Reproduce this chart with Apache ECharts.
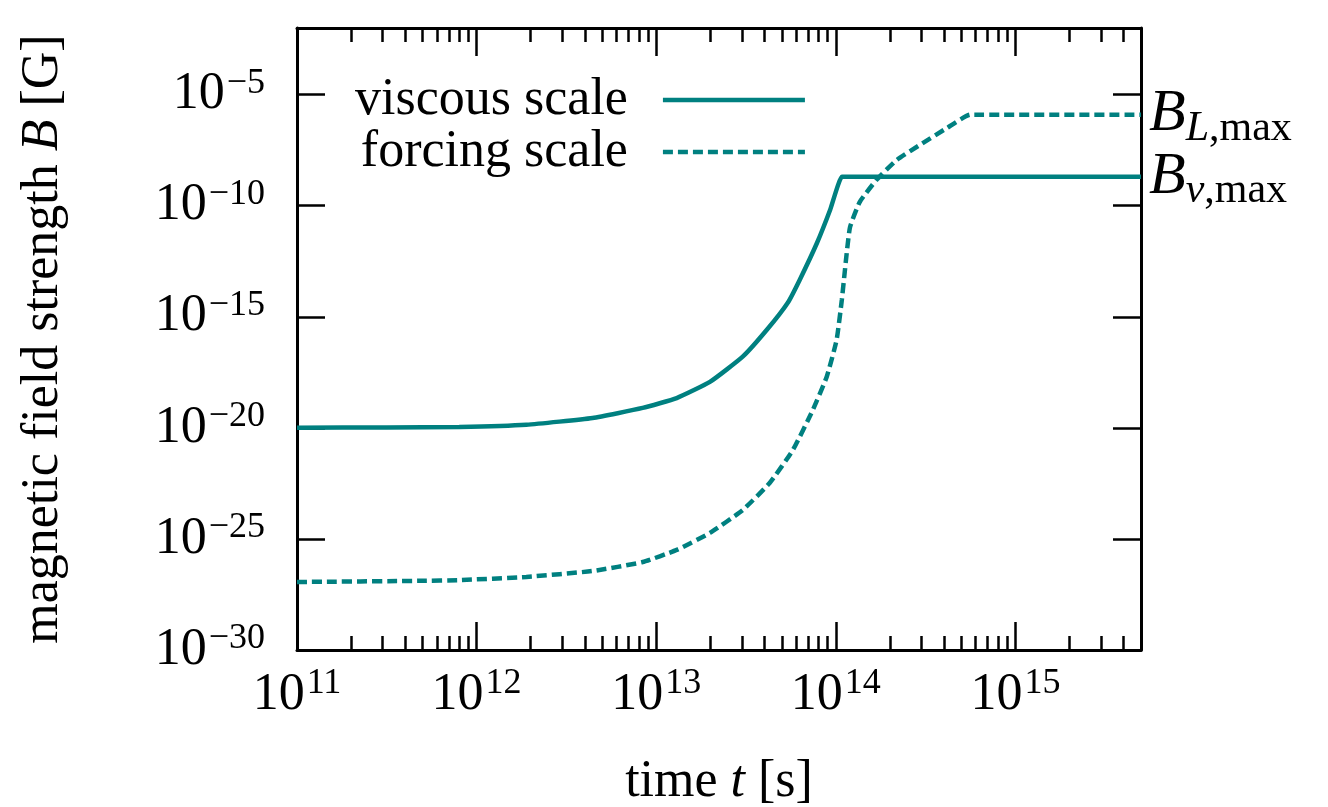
<!DOCTYPE html>
<html><head><meta charset="utf-8">
<script src="https://cdn.jsdelivr.net/npm/echarts@6/dist/echarts.min.js"></script>
<style>html,body{margin:0;padding:0;background:#fff}#c{width:1328px;height:807px}</style>
</head><body><div id="c"></div>
<script>
// time t [s]
const viscousT = [1e11, 3.16e11, 8.0e11, 1.89e12, 4.42e12, 8.4e12, 1.30e13, 1.99e13, 3.03e13, 4.13e13, 5.4e13, 6.3e13, 7.85e13, 9.3e13, 1.08e14, 1.12e14, 5e15];
// magnetic field strength B [G]
const viscousB = [1.0e-20, 1.05e-20, 1.1e-20, 1.38e-20, 2.8e-20, 7.9e-20, 2.2e-19, 1.17e-18, 1.6e-17, 2.6e-16, 4.3e-15, 4.7e-14, 2.1e-12, 6.6e-11, 2.0e-9, 2.0e-9, 2.0e-9];
const forcingT = [1e11, 4.9e11, 8.0e11, 1.89e12, 4.42e12, 8.4e12, 1.30e13, 1.99e13, 3.03e13, 4.28e13, 5.77e13, 7.45e13, 8.9e13, 1.01e14, 1.08e14, 1.15e14, 1.20e14, 1.36e14, 1.69e14, 2.19e14, 2.95e14, 4.17e14, 5.6e14, 5.9e14, 5e15];
const forcingB = [1.15e-27, 1.3e-27, 1.4e-27, 1.95e-27, 3.6e-27, 9.1e-27, 3.2e-26, 1.86e-25, 2.0e-24, 3.3e-23, 1.02e-21, 6.5e-20, 2.0e-18, 9.1e-17, 5.9e-15, 7.6e-13, 1.1e-11, 1.5e-10, 1.5e-9, 1.17e-8, 5.6e-8, 3.2e-7, 1.26e-6, 1.26e-6, 1.26e-6];
const seriesNames = ['viscous scale', 'forcing scale'];
const endLabelSubs = ['ν', 'L'];
const xRange = [1e11, 5e15];
const yRange = [1e-30, 1e-2];
const xTickExponents = [11, 12, 13, 14, 15];
const yTickExponents = [-30, -25, -20, -15, -10, -5];
const xMinorMultipliers = [2, 3, 4, 5, 6, 7, 8, 9];
const xTitle = ['time ', 't', ' [s]'];
const yTitle = ['magnetic field strength ', 'B', ' [G]'];

const FONT = 'Liberation Serif';
const TEAL = '#008080';
const BIG = 52, SMALL = 36, TITLE = 52;
const lg = Math.log10;

const xMin = lg(xRange[0]), xMax = lg(xRange[1]);
const yMin = lg(yRange[0]), yMax = lg(yRange[1]);
const xMinor = [];
xTickExponents.forEach(e => xMinorMultipliers.forEach(m => { const v = e + lg(m); if (v < xMax) xMinor.push(v); }));

function powLabel(v, allowed) {
  const e = Math.round(v);
  if (Math.abs(v - e) > 1e-6 || allowed.indexOf(e) < 0) return '';
  return '{b|10}{e|' + (e < 0 ? '−' : '') + Math.abs(e) + '}';
}
const labelRich = {
  b: {fontFamily: FONT, fontSize: BIG, color: '#000'},
  e: {fontFamily: FONT, fontSize: SMALL, color: '#000', padding: [0, 0, 22, 2]}
};
const tickStyle = {color: '#000', width: 2.5};
const titleRich = {
  n: {fontFamily: FONT, fontSize: TITLE, color: '#000'},
  i: {fontFamily: FONT, fontStyle: 'italic', fontSize: TITLE, color: '#000'}
};

function xMajor(pos, showLabel) {
  return {
    type: 'value', min: xMin, max: xMax, interval: 1, position: pos, gridIndex: 0,
    axisLine: {show: true, onZero: false, lineStyle: {color: '#000', width: 3}},
    axisTick: {show: true, inside: true, length: 28, lineStyle: tickStyle},
    splitLine: {show: false},
    axisLabel: {show: showLabel, margin: 16, formatter: v => powLabel(v, xTickExponents), rich: labelRich},
    name: showLabel ? '{n|' + xTitle[0] + '}{i|' + xTitle[1] + '}{n|' + xTitle[2] + '}' : '',
    nameLocation: 'middle', nameGap: 106,
    nameTextStyle: {rich: titleRich}
  };
}
function xMinorAx(pos) {
  return {
    type: 'value', min: xMin, max: xMax, position: pos, gridIndex: 0,
    axisLine: {show: false, onZero: false},
    axisTick: {show: true, inside: true, length: 14, lineStyle: tickStyle, customValues: xMinor},
    splitLine: {show: false},
    axisLabel: {show: false}
  };
}
function yAx(pos, showLabel) {
  return {
    type: 'value', min: yMin, max: yMax, interval: 5, position: pos, gridIndex: 0,
    axisLine: {show: true, onZero: false, lineStyle: {color: '#000', width: 3}},
    axisTick: {show: true, inside: true, length: 28, lineStyle: tickStyle},
    splitLine: {show: false},
    axisLabel: {show: showLabel, margin: 32, formatter: v => powLabel(v, yTickExponents), rich: labelRich},
    name: showLabel ? '{n|' + yTitle[0] + '}{i|' + yTitle[1] + '}{n|' + yTitle[2] + '}' : '',
    nameLocation: 'middle', nameGap: 228, nameRotate: 90,
    nameTextStyle: {rich: titleRich}
  };
}
function endLabel(sub) {
  return {
    show: true, distance: 8,
    formatter: '{bi|B}{si|' + sub + '}{s|,max}',
    rich: {
      bi: {fontFamily: FONT, fontStyle: 'italic', fontSize: 60, color: '#000'},
      si: {fontFamily: FONT, fontStyle: 'italic', fontSize: 42, color: '#000', padding: [28, 0, 0, 0]},
      s: {fontFamily: FONT, fontSize: 42, color: '#000', padding: [28, 0, 0, 0]}
    }
  };
}

const chart = echarts.init(document.getElementById('c'), null, {renderer: 'canvas'});
chart.setOption({
  backgroundColor: '#fff',
  animation: false,
  grid: {left: 297, right: 187, top: 28, bottom: 157, containLabel: false, outerBoundsMode: 'none'},
  xAxis: [xMajor('bottom', true), xMinorAx('bottom'), xMajor('top', false), xMinorAx('top')],
  yAxis: [yAx('left', true), yAx('right', false)],
  legend: {
    left: 350, top: 69, orient: 'vertical', align: 'right',
    itemWidth: 142, itemHeight: 14, itemGap: 0,
    itemStyle: {color: 'rgba(0,0,0,0)', borderWidth: 0, opacity: 0},
    lineStyle: {width: 4.5},
    textStyle: {fontFamily: FONT, fontSize: BIG, color: '#000', padding: [0, 30, 0, 0]},
    data: seriesNames
  },
  series: [
    {
      name: seriesNames[0], type: 'line', xAxisIndex: 0, yAxisIndex: 0,
      data: viscousT.map((t, i) => [lg(t), lg(viscousB[i])]),
      symbol: 'none', showSymbol: false, smooth: 0.15,
      lineStyle: {color: TEAL, width: 4.5}, itemStyle: {color: TEAL},
      endLabel: endLabel(endLabelSubs[0])
    },
    {
      name: seriesNames[1], type: 'line', xAxisIndex: 0, yAxisIndex: 0,
      data: forcingT.map((t, i) => [lg(t), lg(forcingB[i])]),
      symbol: 'none', showSymbol: false, smooth: 0.15,
      lineStyle: {color: TEAL, width: 4.5, type: [10, 5]}, itemStyle: {color: TEAL},
      endLabel: endLabel(endLabelSubs[1])
    }
  ]
});
</script></body></html>
